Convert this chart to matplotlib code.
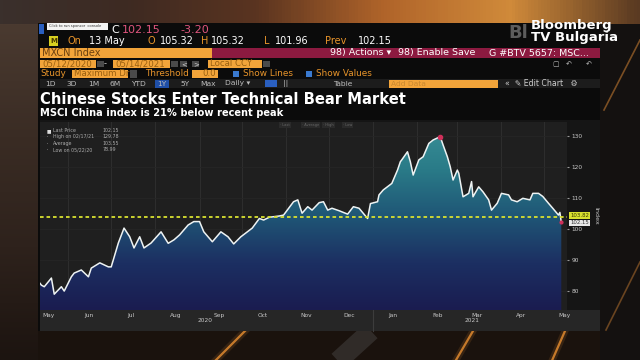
import numpy as np
import pandas as pd
import matplotlib
matplotlib.use('Agg')
import matplotlib.pyplot as plt
import matplotlib.transforms as mtransforms
from matplotlib.patches import Rectangle, Polygon
from matplotlib.colors import LinearSegmentedColormap


# MXCN Index closes
dates = ['2020-05-12', '2020-05-13', '2020-05-15', '2020-05-20', '2020-05-22', '2020-05-27', '2020-05-29',
         '2020-06-03', '2020-06-05', '2020-06-10', '2020-06-15', '2020-06-17', '2020-06-23', '2020-06-29',
         '2020-07-01', '2020-07-06', '2020-07-10', '2020-07-14', '2020-07-17', '2020-07-21', '2020-07-24',
         '2020-07-29', '2020-08-05', '2020-08-10', '2020-08-14', '2020-08-18', '2020-08-24', '2020-08-28',
         '2020-09-01', '2020-09-04', '2020-09-10', '2020-09-16', '2020-09-21', '2020-09-25', '2020-09-30',
         '2020-10-08', '2020-10-13', '2020-10-16', '2020-10-20', '2020-10-27', '2020-10-30',
         '2020-11-06', '2020-11-09', '2020-11-12', '2020-11-16', '2020-11-19', '2020-11-24', '2020-11-27',
         '2020-11-30', '2020-12-03', '2020-12-08', '2020-12-14', '2020-12-18', '2020-12-22', '2020-12-24',
         '2020-12-28', '2020-12-30', '2021-01-04', '2021-01-05', '2021-01-08', '2021-01-14', '2021-01-18',
         '2021-01-20', '2021-01-21', '2021-01-25', '2021-01-27', '2021-01-29', '2021-02-02', '2021-02-05',
         '2021-02-09', '2021-02-12', '2021-02-17', '2021-02-19', '2021-02-22', '2021-02-24', '2021-02-26',
         '2021-03-01', '2021-03-02', '2021-03-05', '2021-03-09', '2021-03-11', '2021-03-12', '2021-03-16',
         '2021-03-19', '2021-03-23', '2021-03-25', '2021-03-29', '2021-04-01', '2021-04-06', '2021-04-08',
         '2021-04-12', '2021-04-16', '2021-04-21', '2021-04-23', '2021-04-27', '2021-04-30', '2021-05-04',
         '2021-05-07', '2021-05-11', '2021-05-12', '2021-05-13']
prices = [82.5, 81.9, 81.4, 84.2, 79.0, 81.4, 80.0,
          84.6, 85.8, 86.8, 84.6, 87.4, 89.1, 87.8,
          87.8, 95.5, 100.3, 97.5, 93.9, 97.5, 93.9,
          95.5, 99.1, 95.4, 96.5, 98.1, 101.3, 102.4,
          102.4, 99.1, 95.9, 99.1, 97.5, 95.2, 97.5,
          100.3, 103.4, 102.9, 103.8, 104.2, 104.5,
          108.8, 109.4, 105.1, 107.2, 106.1, 108.5, 108.8,
          106.1, 106.7, 105.9, 104.8, 107.2, 106.7, 105.6,
          103.4, 108.2, 108.8, 111.0, 112.6, 114.7, 119.0,
          121.7, 122.3, 124.9, 121.7, 117.4, 122.3, 123.3,
          127.6, 128.7, 129.78, 127.1, 123.3, 120.1, 115.8,
          119.0, 118.0, 110.4, 111.5, 115.3, 110.4, 113.6,
          112.0, 109.4, 106.1, 108.3, 111.5, 111.0, 109.4,
          108.8, 109.9, 109.4, 111.5, 111.5, 110.5, 108.3,
          106.7, 104.5, 105.35, 102.15]

month_labels = ['May', 'Jun', 'Jul', 'Aug', 'Sep', 'Oct', 'Nov', 'Dec', 'Jan', 'Feb', 'Mar', 'Apr', 'May']
month_label_dates = ['2020-05-18', '2020-06-15', '2020-07-15', '2020-08-15', '2020-09-15', '2020-10-15',
                     '2020-11-15', '2020-12-15', '2021-01-15', '2021-02-15', '2021-03-15', '2021-04-15',
                     '2021-05-15']
year_labels = ['2020', '2021']
year_label_dates = ['2020-09-05', '2021-03-11']
yticks = [80, 90, 100, 110, 120, 130]

threshold = 103.82
last_price = 102.15
stat_names = ['Last Price', 'High on 02/17/21', 'Average', 'Low on 05/22/20']
stat_values = ['102.15', '129.78', '103.55', '78.99']

ORANGE = '#f2a43a'
ORANGE_TXT = '#e8942a'

fig = plt.figure(figsize=(6.4, 3.6), dpi=100)
fig.patch.set_facecolor('#1a1412')

# pixel-space background axes for the terminal chrome
bg = fig.add_axes([0, 0, 1, 1])
bg.set_xlim(0, 640)
bg.set_ylim(360, 0)
bg.axis('off')


def box(x0, y0, x1, y1, color, **kw):
    bg.add_patch(Rectangle((x0, y0), x1 - x0, y1 - y0, facecolor=color, edgecolor='none', **kw))


def txt(x, y, s, color='white', size=7, **kw):
    bg.text(x, y, s, color=color, fontsize=size, va='center', **kw)


# studio backdrop
top_cmap = LinearSegmentedColormap.from_list('top', ['#3a302c', '#3e2a22', '#5a3420', '#b0642a', '#d08a3a', '#5a3a22'])
bg.imshow(np.linspace(0, 1, 200).reshape(1, -1), extent=(0, 640, 24, 0), cmap=top_cmap, aspect='auto', zorder=0)
left_cmap = LinearSegmentedColormap.from_list('left', ['#4a3a30', '#3a2c24', '#2e221c', '#1c1410'])
bg.imshow(np.linspace(0, 1, 200).reshape(-1, 1), extent=(0, 38, 360, 24), cmap=left_cmap, aspect='auto',
          origin='upper', zorder=0)
box(600, 24, 640, 360, '#141110', zorder=0)
box(38, 331, 600, 360, '#1a120d', zorder=0)
bg.plot([326, 371], [372, 331], color='#3a3634', lw=14, alpha=0.7, zorder=0.5, solid_capstyle='butt')
for x0, x1 in [(204, 245), (449, 473), (547, 565)]:
    bg.plot([x0, x1], [372, 331], color='#e08a30', lw=1.6, alpha=0.85, zorder=0.6)
    bg.plot([x0, x1], [372, 331], color='#e08a30', lw=5, alpha=0.15, zorder=0.6)
bg.plot([604, 640], [110, 40], color='#c07830', lw=1.2, alpha=0.6, zorder=0.6)
bg.plot([606, 640], [330, 262], color='#c07830', lw=1.2, alpha=0.5, zorder=0.6)

# terminal panel
box(38, 23, 600, 331, '#0b0b0b', zorder=1)
txt(508, 33, 'Bl', '#5c5c5c', 13, fontweight='bold', zorder=2)
txt(531, 25, 'Bloomberg', 'white', 9.5, fontweight='bold', zorder=3)
txt(531, 37, 'TV Bulgaria', 'white', 9.5, fontweight='bold', zorder=3)

# row 1: ticker quote
box(39, 24, 44, 34, '#2a5fc0', zorder=2)
box(47, 23, 108, 30, '#f4f4f4', zorder=3)
txt(49, 26.5, 'Click to run sponsor  console', '#333333', 2.6, zorder=4)
txt(111, 30, 'C', 'white', 8, zorder=2)
txt(122, 30, '102.15', '#e0557e', 8, zorder=2)
txt(180, 30, '-3.20', '#e0557e', 8, zorder=2)

# row 2: OHLC
box(49, 36, 58, 46, '#d8d020', zorder=2)
txt(50.5, 41, 'M', '#4a3a00', 5, fontweight='bold', zorder=3)
row2 = [(68, 'On', ORANGE_TXT), (89, '13 May', 'white'), (148, 'O', ORANGE_TXT), (160, '105.32', 'white'),
        (201, 'H', ORANGE_TXT), (211, '105.32', 'white'), (264, 'L', ORANGE_TXT), (275, '101.96', 'white'),
        (325, 'Prev', ORANGE_TXT), (358, '102.15', 'white')]
for x, s, c in row2:
    txt(x, 41.5, s, c, 7.0, zorder=2)

# row 3: security bar
box(40, 48, 212, 58, ORANGE, zorder=2)
txt(42, 53, 'MXCN Index', '#6a4010', 7, zorder=3)
box(212, 48, 600, 58, '#8c1a40', zorder=2)
txt(330, 53, '98) Actions \u25be', 'white', 6.8, zorder=3)
txt(398, 53, '98) Enable Save', 'white', 6.8, zorder=3)
txt(489, 53, 'G #BTV 5657: MSC...', 'white', 6.8, zorder=3)

# row 4: date range
for x0, x1, s in [(40, 96, '05/12/2020'), (113, 170, '05/14/2021'), (208, 262, 'Local CCY')]:
    box(x0, 60, x1, 68, ORANGE, zorder=2)
    txt(x0 + 2, 64, s, '#9a6010', 6.2, zorder=3)
for x0 in [97, 171, 180, 192, 263]:
    box(x0, 61, x0 + 7, 67, '#4a4a4a', zorder=2)
txt(181.5, 64, '<', '#cccccc', 5, zorder=3)
txt(193.5, 64, '>', '#cccccc', 5, zorder=3)
txt(104, 64, '-', '#cccccc', 6, zorder=3)
for x0 in [552, 566, 586]:
    txt(x0, 64, '\u25a2' if x0 == 552 else '\u21b6', '#bbbbbb', 5, zorder=3)

# row 5: study
txt(40, 74, 'Study', ORANGE_TXT, 6.4, zorder=2)
box(72, 70, 128, 78, ORANGE, zorder=2)
txt(74, 74, 'Maximum Dr', '#9a6010', 6.2, zorder=3)
box(130, 70, 137, 78, '#4a4a4a', zorder=2)
txt(145, 74, 'Threshold', ORANGE_TXT, 6.4, zorder=2)
box(192, 70, 218, 78, ORANGE, zorder=2)
txt(216, 74, '0.0', '#9a6010', 6.2, ha='right', zorder=3)
box(233, 71, 239, 77, '#3a7ad0', zorder=2)
txt(243, 74, 'Show Lines', ORANGE_TXT, 6.4, zorder=2)
box(306, 71, 312, 77, '#3a7ad0', zorder=2)
txt(316, 74, 'Show Values', ORANGE_TXT, 6.4, zorder=2)

# row 6: buttons
box(40, 79, 600, 88, '#1c1c1c', zorder=2)
box(155, 79.5, 169, 87.5, '#1f4fa8', zorder=3)
box(265, 80, 277, 87, '#2a5fc0', zorder=3)
for x, s in [(45, '1D'), (66, '3D'), (88, '1M'), (110, '6M'), (131, 'YTD'), (157, '1Y'), (180, '5Y'),
             (200, 'Max'), (225, 'Daily \u25be'), (283, '||'), (333, 'Table')]:
    txt(x, 83.5, s, '#bdbdbd', 5.4, zorder=4)
box(389, 79.5, 498, 87.5, ORANGE, zorder=3)
txt(391, 83.5, 'Add Data', '#c88830', 5.4, zorder=4)
txt(505, 83.5, '\u00ab  \u270e Edit Chart   \u2699', '#cfcfcf', 5.6, zorder=4)

# title
txt(40, 99.5, 'Chinese Stocks Enter Technical Bear Market', 'white', 10.6, fontweight='bold', zorder=2)
txt(40, 113, 'MSCI China index is 21% below recent peak', 'white', 7.1, fontweight='bold', zorder=2)

# chart panel + label band
box(40, 120, 600, 310, '#151515', zorder=2)
box(40, 310, 600, 331, '#262626', zorder=2)

# ---- the price chart ----
x = pd.to_datetime(dates)
y = np.array(prices)
ax = fig.add_axes([40 / 640, (360 - 310) / 360, 527 / 640, 188 / 360])
ax.set_facecolor('#1f1f1f')
ax.set_xlim(pd.Timestamp('2020-05-12'), pd.Timestamp('2021-05-17'))
ax.set_ylim(73.9, 134.5)
y0, y1 = ax.get_ylim()
x0n, x1n = ax.get_xlim()

# month boundary grid
month_starts = pd.date_range('2020-06-01', '2021-05-01', freq='MS')
ax.set_xticks(month_starts, minor=True)
ax.grid(True, which='minor', axis='x', color='#2d2d2d', lw=0.8)
ax.grid(True, which='major', axis='y', color='#262626', lw=0.6)
ax.tick_params(which='minor', length=0)

# gradient area under the line
xn = matplotlib.dates.date2num(x)
verts = np.vstack([[xn[0], y0], np.column_stack([xn, y]), [xn[-1], y0]])
clip = Polygon(verts, closed=True, facecolor='none', edgecolor='none', transform=ax.transData)
ax.add_patch(clip)
grad_cmap = LinearSegmentedColormap.from_list('fill', ['#1a1c50', '#1c2f62', '#1f5676', '#2a7b88', '#3a9198'])
im = ax.imshow(np.linspace(0, 1, 256).reshape(-1, 1), extent=(x0n, x1n, y0, y1), origin='lower',
               aspect='auto', cmap=grad_cmap, zorder=2)
im.set_clip_path(clip)

ax.plot(x, y, color='#eef3f3', lw=1.1, zorder=4)
ax.axhline(threshold, color='#d8e030', lw=1.3, ls=(0, (2, 1.6)), zorder=5)
ipk = int(np.argmax(y))
ax.plot(x[ipk], y[ipk], 'o', color='#d0305a', ms=3, zorder=5)
ax.plot(x[-1], y[-1], 'o', color='#d0305a', ms=2, zorder=5)

for s in ax.spines.values():
    s.set_visible(False)

ax.set_xticks(pd.to_datetime(month_label_dates))
ax.set_xticklabels(month_labels)
ax.tick_params(axis='x', which='major', length=0, pad=2, labelsize=4.2, labelcolor='#c8c8c8')
ax.yaxis.tick_right()
ax.set_yticks(yticks)
ax.tick_params(axis='y', length=1.5, width=0.8, color='#999999', pad=1.5, labelsize=4.2, labelcolor='#c8c8c8')

ax.text(1.055, 0.5, 'Index', transform=ax.transAxes, rotation=270, color='#c8c8c8', fontsize=4.6,
        va='center', ha='center')

# year labels and separator
for d, s in zip(year_label_dates, year_labels):
    ax.text(pd.Timestamp(d), -0.055, s, transform=ax.get_xaxis_transform(), color='#c8c8c8', fontsize=4.2,
            ha='center', va='center', clip_on=False)
ax.plot([pd.Timestamp('2021-01-01')] * 2, [0, -0.11], transform=ax.get_xaxis_transform(), color='#3c3c3c',
        lw=0.8, clip_on=False)

# right-hand value tags
trans = mtransforms.blended_transform_factory(ax.transAxes, ax.transData)
ax.text(1.006, threshold + 0.5, f'{threshold:.2f}', transform=trans, fontsize=3.9, color='#3a3a00',
        va='center', ha='left', zorder=6, clip_on=False,
        bbox=dict(boxstyle='square,pad=0.15', fc='#d8e030', ec='none'))
ax.text(1.006, last_price - 0.2, f'{last_price:.2f}', transform=trans, fontsize=3.9, color='#333333',
        va='center', ha='left', zorder=6, clip_on=False,
        bbox=dict(boxstyle='square,pad=0.15', fc='#e8e8e8', ec='none'))

# legend block top-left
for i, (n, v) in enumerate(zip(stat_names, stat_values)):
    yy = 0.955 - i * 0.034
    ax.text(0.012, yy, '\u25a0' if i == 0 else '\u00b7', transform=ax.transAxes, color='#dddddd',
            fontsize=3.4, va='center', zorder=6)
    ax.text(0.024, yy, n, transform=ax.transAxes, color='#aaaaaa', fontsize=3.4, va='center', zorder=6)
    ax.text(0.118, yy, v, transform=ax.transAxes, color='#aaaaaa', fontsize=3.4, va='center', zorder=6)

# tiny tabs at top
for xa, s in [(0.455, '\u00b7 Last'), (0.497, '\u00b7 Average'), (0.537, '\u00b7 High'), (0.575, '\u00b7 Low')]:
    ax.text(xa, 0.985, s, transform=ax.transAxes, color='#666666', fontsize=2.6, va='center', zorder=6,
            bbox=dict(boxstyle='square,pad=0.3', fc='#2a2a2a', ec='none'))

fig.savefig('out.png', dpi=100, facecolor=fig.get_facecolor())
